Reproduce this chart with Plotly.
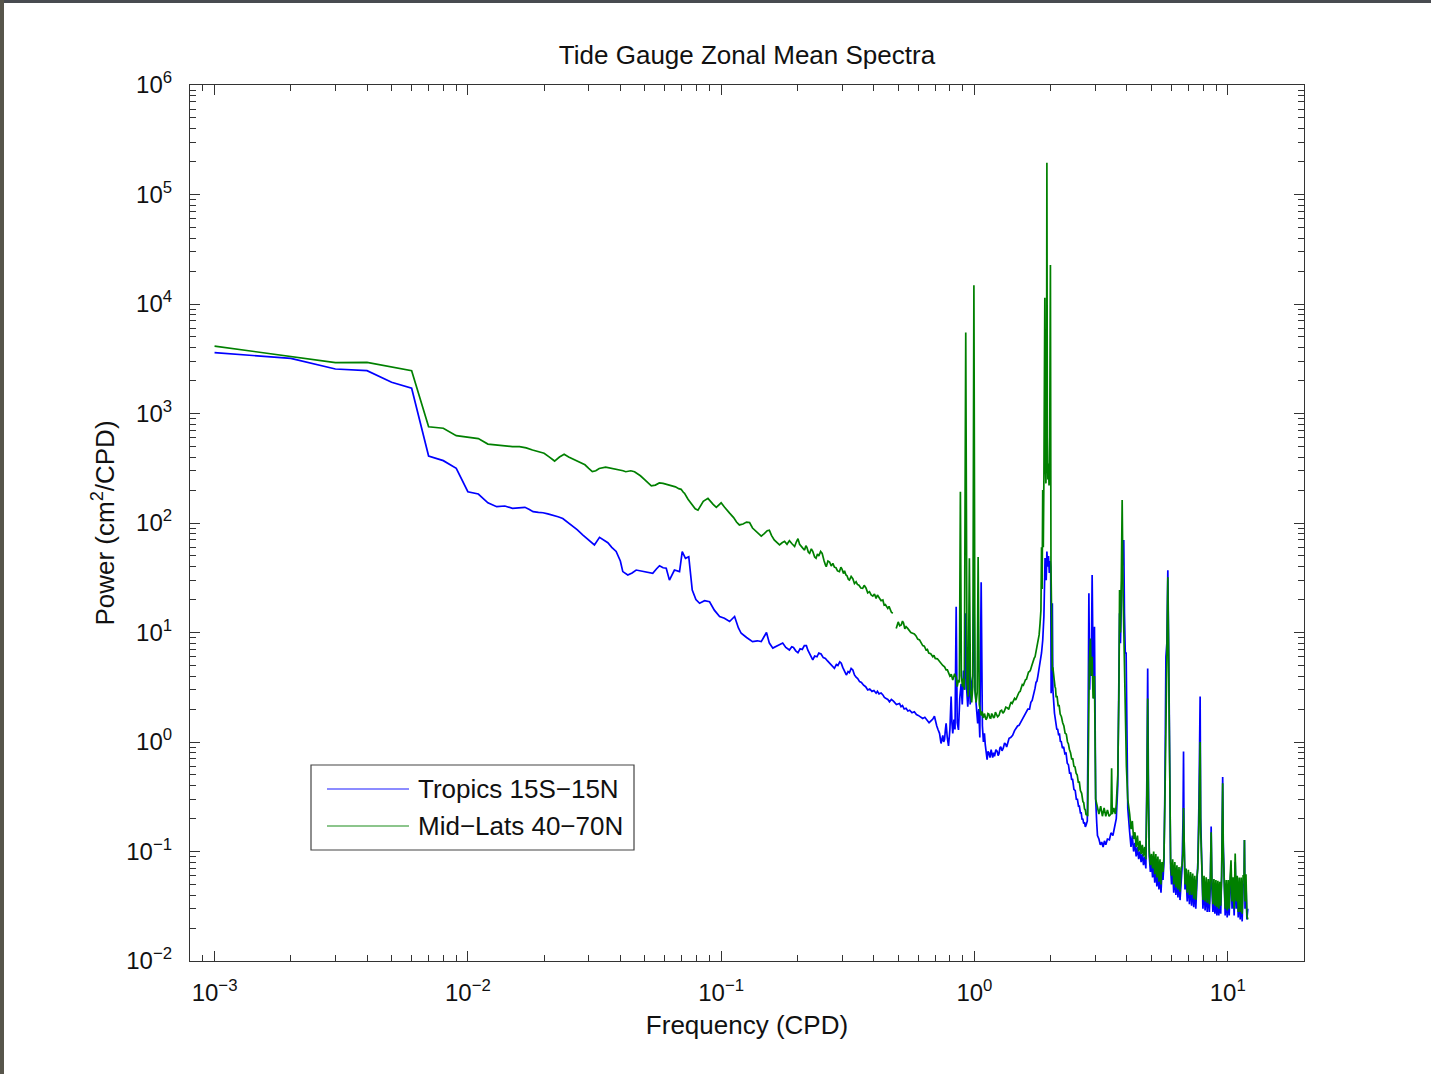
import math
import plotly.graph_objects as go

# ---------------------------------------------------------------------------
# Zonal-mean power spectra of tide-gauge sea level (cm^2/CPD vs cycles/day)
# Each series is stored in frequency bands: (freq list, power list) per band.
# ---------------------------------------------------------------------------

# ---- Tropics 15S-15N ------------------------------------------------------
trop_f_low = [
    0.001, 0.002, 0.003, 0.004, 0.005, 0.006, 0.007, 0.008, 0.009, 0.010,
    0.011, 0.012, 0.013, 0.014, 0.015, 0.016, 0.0168, 0.0175, 0.0181, 0.019,
    0.0198, 0.0207, 0.0217, 0.0227, 0.0237, 0.0246, 0.0256, 0.027, 0.0284, 0.030,
    0.0316, 0.0331, 0.0345, 0.0357, 0.037, 0.0385, 0.040, 0.0409, 0.0428, 0.0445,
    0.0462, 0.048, 0.0506, 0.0537, 0.0555, 0.0571, 0.059, 0.0607, 0.0625, 0.0654,
    0.0685, 0.0702, 0.0723, 0.0745, 0.0769, 0.0795, 0.0822, 0.086, 0.090, 0.094,
    0.0986, 0.103, 0.108, 0.113, 0.117, 0.120, 0.126, 0.133, 0.139, 0.144,
    0.151, 0.155, 0.160, 0.168, 0.175, 0.180,
]
trop_p_low = [
    3590, 3190, 2550, 2460, 1930, 1700, 409, 371, 316, 193,
    184, 153, 141, 143, 136, 138, 139, 133, 127, 125,
    124, 121, 118, 114, 110, 103, 96, 87, 78, 70,
    63, 74, 70, 66, 60, 55, 45, 36, 33.5, 35,
    37.2, 36.5, 36, 34.7, 38, 40.7, 39, 38.6, 30.1, 37.2,
    36, 54.7, 47.6, 49.2, 24.4, 20, 18.5, 19.5, 19.1, 16,
    14, 13.5, 12.6, 14, 11, 9.84, 9.0, 8.26, 8.4, 8.26,
    10, 8.0, 7.2, 7.7, 8.0, 7.3,
]
trop_f_sub = [
    0.186, 0.190, 0.193, 0.197, 0.201, 0.205, 0.209, 0.213, 0.217, 0.220,
    0.223, 0.226, 0.230, 0.234, 0.239, 0.243, 0.248, 0.253, 0.258, 0.263,
    0.268, 0.274, 0.280, 0.285, 0.289, 0.294, 0.298, 0.302, 0.305, 0.309,
    0.312, 0.317, 0.321, 0.326, 0.331, 0.336, 0.341, 0.346, 0.352, 0.358,
    0.365, 0.372, 0.379, 0.386, 0.394, 0.401, 0.409, 0.414, 0.420, 0.428,
    0.435, 0.441, 0.448, 0.455, 0.462, 0.470, 0.480, 0.492, 0.506, 0.513,
    0.520, 0.528, 0.537, 0.546, 0.555, 0.567, 0.579, 0.590, 0.600, 0.612,
    0.625, 0.637, 0.650, 0.662, 0.675, 0.685, 0.695, 0.702, 0.710, 0.718,
    0.728, 0.738, 0.744, 0.750, 0.756, 0.762, 0.768, 0.773, 0.781, 0.790,
    0.800, 0.809, 0.815, 0.821, 0.830, 0.838, 0.847,
]
trop_p_sub = [
    6.92, 7.4, 7.3, 6.8, 6.54, 7.1, 7.0, 7.6, 7.58, 6.9,
    6.4, 6.0, 5.61, 6.1, 6.0, 6.5, 6.37, 5.9, 5.8, 5.5,
    5.24, 4.9, 4.71, 5.1, 5.0, 5.4, 5.24, 4.8, 4.5, 4.3,
    4.09, 4.4, 4.3, 4.7, 4.55, 4.1, 3.9, 3.8, 3.56, 3.5,
    3.3, 3.2, 2.99, 3.05, 2.9, 2.95, 2.79, 2.9, 2.75, 2.8,
    2.69, 2.55, 2.5, 2.45, 2.33, 2.45, 2.35, 2.2, 2.25, 2.1,
    2.15, 2.0, 2.03, 1.92, 1.95, 1.85, 1.89, 1.78, 1.75, 1.7,
    1.64, 1.68, 1.6, 1.5, 1.57, 1.62, 1.72, 1.5, 1.4, 1.3,
    1.2, 0.97, 1.1, 1.15, 1.0, 1.05, 1.3, 1.48, 1.1, 0.92,
    1.3, 2.6, 1.5, 1.2, 1.6, 1.3, 17.2,
]
trop_f_diurnal = [
    0.855, 0.865, 0.875, 0.886, 0.895, 0.905, 0.915, 0.924, 0.932, 0.941,
    0.950, 0.955, 0.962, 0.975, 0.985, 0.995, 1.005, 1.015, 1.030, 1.040,
]
trop_p_diurnal = [
    1.5, 1.29, 2.5, 3.4, 2.2, 4.5, 3.0, 15, 3.0, 2.1,
    3.0, 6.0, 2.2, 3.5, 4.0, 25, 3.0, 2.25, 1.48, 2.0,
]
trop_f_rise = [
    1.050, 1.063, 1.075, 1.085, 1.095, 1.103, 1.110, 1.116, 1.122, 1.131,
    1.140, 1.152, 1.164, 1.172, 1.180, 1.190, 1.200, 1.215, 1.230, 1.240,
    1.250, 1.260, 1.270, 1.285, 1.300, 1.315, 1.330, 1.340, 1.353, 1.370,
    1.390, 1.415, 1.440, 1.460, 1.480, 1.500, 1.520, 1.540, 1.560, 1.580,
    1.600, 1.625, 1.650, 1.670, 1.690, 1.705, 1.720, 1.735, 1.750, 1.765,
    1.780, 1.800, 1.820, 1.840, 1.860, 1.880,
]
trop_p_rise = [
    1.1, 28.8, 1.4, 1.0, 1.2, 0.95, 0.85, 0.75, 0.69, 0.82,
    0.8, 0.72, 0.85, 0.78, 0.72, 0.8, 0.74, 0.85, 0.82, 0.75,
    0.78, 0.88, 0.905, 0.83, 0.88, 0.98, 0.95, 0.9, 0.97, 1.08,
    1.1, 1.15, 1.27, 1.35, 1.4, 1.42, 1.5, 1.62, 1.7, 1.75,
    1.85, 2.0, 2.0, 2.3, 2.4, 2.6, 2.8, 3.1, 3.5, 3.6,
    4.0, 4.6, 5.5, 6.5, 8.5, 14,
]
trop_f_semi = [
    1.900, 1.920, 1.932, 1.945, 1.960, 1.975, 1.990, 2.000, 2.008, 2.020,
    2.030, 2.040,
]
trop_p_semi = [
    48, 30, 55, 40, 50, 35, 45, 40, 2.79, 5.0,
    18.5, 3.0,
]
trop_f_decay = [
    2.070, 2.085, 2.100, 2.115, 2.130, 2.150, 2.165, 2.185, 2.200, 2.225,
    2.250, 2.275, 2.300, 2.325, 2.350, 2.375, 2.400, 2.420, 2.440, 2.470,
    2.500, 2.525, 2.550, 2.575, 2.595, 2.620, 2.640, 2.660, 2.677, 2.700,
    2.720, 2.740, 2.760, 2.790,
]
trop_p_decay = [
    1.83, 1.55, 1.5, 1.3, 1.32, 1.15, 1.2, 1.0, 1.02, 0.88,
    0.9, 0.78, 0.79, 0.64, 0.62, 0.52, 0.52, 0.45, 0.46, 0.37,
    0.36, 0.3, 0.3, 0.26, 0.26, 0.225, 0.225, 0.195, 0.2, 0.18,
    0.185, 0.168, 0.175, 0.19,
]
trop_f_ter = [
    2.810, 2.830, 2.850, 2.870, 2.890, 2.915, 2.940, 2.960, 2.977, 2.990,
    3.010, 3.040, 3.060, 3.100, 3.140, 3.180, 3.220, 3.260, 3.300, 3.350,
    3.410, 3.460, 3.520, 3.580, 3.630, 3.680, 3.720, 3.740, 3.770, 3.800,
    3.830, 3.860, 3.886, 3.910, 3.940, 3.970, 4.000, 4.030,
]
trop_p_ter = [
    1.5, 22.8, 3.0, 6.0, 4.0, 33.5, 5.0, 2.5, 11.3, 1.0,
    0.3, 0.18, 0.14, 0.13, 0.115, 0.122, 0.11, 0.125, 0.115, 0.13,
    0.128, 0.148, 0.14, 0.17, 0.2, 0.4, 2.5, 15, 8, 20,
    40, 55, 70, 15, 6.5, 6.5, 1.0, 0.25,
]

# ---- Mid-Lats 40-70N (None marks a data gap) ------------------------------
mid_f_low = [
    0.001, 0.002, 0.003, 0.004, 0.005, 0.006, 0.007, 0.008, 0.009, 0.010,
    0.011, 0.012, 0.013, 0.014, 0.015, 0.016, 0.017, 0.018, 0.019, 0.020,
    0.021, 0.022, 0.023, 0.024, 0.025, 0.026, 0.027, 0.028, 0.029, 0.030,
    0.031, 0.032, 0.033, 0.035, 0.037, 0.039, 0.041, 0.042, 0.044, 0.0455,
    0.047, 0.048, 0.050, 0.052, 0.053, 0.055, 0.057, 0.059, 0.061, 0.0625,
    0.064, 0.066, 0.068, 0.0695, 0.071, 0.0717, 0.074, 0.077, 0.079, 0.081,
    0.083, 0.085, 0.0887, 0.091, 0.093, 0.0957, 0.098, 0.100, 0.103, 0.106,
    0.108, 0.112, 0.115, 0.118, 0.122, 0.126, 0.1295, 0.133, 0.137, 0.141,
    0.144, 0.148, 0.152, 0.155, 0.158, 0.162, 0.166, 0.170, 0.174, 0.178,
    0.182, 0.186, 0.190,
]
mid_p_low = [
    4130, 3300, 2910, 2930, 2680, 2460, 757, 733, 627, 607,
    590, 526, 515, 512, 498, 498, 485, 464, 450, 433,
    400, 368, 400, 424, 400, 384, 372, 355, 340, 315,
    295, 300, 315, 323, 315, 311, 300, 294, 300, 294,
    280, 270, 248, 225, 218, 222, 232, 230, 226, 222,
    218, 214, 206, 203, 190, 187, 165, 145, 135, 131,
    143, 158, 168, 155, 148, 139, 147, 153, 140, 128,
    123, 112, 102, 96, 98, 102, 101, 90, 84, 79,
    76, 80, 85, 86, 77, 70, 66, 63, 66, 68,
    64, 69, 65,
]
mid_f_sub = [
    0.195, 0.198, 0.201, 0.204, 0.207, 0.210, 0.2135, 0.216, 0.218, 0.221,
    0.2235, 0.227, 0.230, 0.234, 0.237, 0.240, 0.243, 0.247, 0.2505, 0.253,
    0.255, 0.258, 0.260, 0.264, 0.268, 0.272, 0.276, 0.280, 0.284, 0.288,
    0.293, 0.297, 0.300, 0.304, 0.307, 0.311, 0.314, 0.318, 0.321, 0.326,
    0.331, 0.336, 0.341, 0.345, 0.350, 0.356, 0.362, 0.367, 0.373, 0.379,
    0.385, 0.391, 0.397, 0.403, 0.409, 0.414, 0.420, 0.428, 0.435, 0.440,
    0.445, 0.450, 0.455, 0.460, 0.465, 0.470, 0.476, 0.483, 0.491, 0.496,
    0.500, 0.507, 0.514, 0.520, 0.525, 0.531, 0.537, 0.545, 0.553, 0.561,
    0.570, 0.579, 0.588, 0.597, 0.607, 0.616, 0.625, 0.634, 0.644, 0.652,
    0.660, 0.672, 0.685, 0.692, 0.700, 0.714, 0.728, 0.739, 0.750, 0.762,
    0.773, 0.782, 0.790, 0.800, 0.810, 0.821, 0.835, 0.847,
]
mid_p_sub = [
    61, 67, 72, 64, 62, 59, 56.6, 62, 60, 54,
    52.8, 58, 55, 49, 47.6, 52, 50, 55, 52.8, 47,
    45, 41.5, 39.9, 45, 44, 40.5, 42.8, 39.5, 39, 36.5,
    36, 39.5, 38, 34.5, 36.7, 33.5, 33, 30.5, 30.1, 32.5,
    31, 28, 29.1, 27.5, 27, 25.5, 25.3, 27, 25.5, 23,
    23.6, 22, 21.5, 22.5, 20.5, 22, 21, 19.5, 19.8, 17.8,
    18, 17.2, 16.6, 17.3, 16, 15.3, 15, None, 10.9, 12.2,
    12.5, 11.5, 11.7, 12.7, 12.2, 10.8, 11.3, 10.9, 10.5, 10.0,
    9.85, 9.7, 9.3, 8.7, 8.55, 8.1, 7.6, 7.5, 6.92, 7.0,
    6.5, 6.4, 6.0, 6.2, 5.8, 5.75, 5.42, 5.25, 5.0, 4.85,
    4.55, 4.55, 4.3, 4.0, 4.15, 3.68, 4.2, 3.9,
]
mid_f_diurnal = [
    0.855, 0.865, 0.872, 0.880, 0.888, 0.897, 0.905, 0.912, 0.924, 0.935,
    0.945, 0.955, 0.965, 0.975, 0.985, 0.995, 1.005, 1.015, 1.025, 1.034,
]
mid_p_diurnal = [
    3.2, 3.7, 3.5, 193, 4.0, 3.2, 3.8, 3.0, 5500, 3.5,
    2.6, 47.7, 3.0, 2.3, 3.2, 14800, 3.0, 2.3, 2.8, 49,
]
mid_f_rise = [
    1.045, 1.050, 1.055, 1.060, 1.065, 1.070, 1.075, 1.082, 1.090, 1.095,
    1.100, 1.110, 1.120, 1.130, 1.140, 1.150, 1.160, 1.170, 1.180, 1.190,
    1.200, 1.210, 1.220, 1.235, 1.250, 1.265, 1.280, 1.295, 1.310, 1.330,
    1.350, 1.365, 1.380, 1.395, 1.410, 1.425, 1.440, 1.455, 1.470, 1.485,
    1.500, 1.515, 1.530, 1.545, 1.560, 1.575, 1.590, 1.605, 1.620, 1.635,
    1.650, 1.665, 1.680, 1.700, 1.720, 1.735, 1.750, 1.765, 1.780, 1.790,
    1.800,
]
mid_p_rise = [
    2.2, 2.0, 1.96, 1.8, 1.75, 1.9, 1.85, 1.68, 1.7, 1.82,
    1.75, 1.6, 1.65, 1.82, 1.8, 1.66, 1.65, 1.82, 1.75, 1.66,
    1.7, 1.87, 1.8, 1.7, 1.75, 1.92, 1.95, 1.83, 1.9, 2.08,
    2.05, 1.98, 2.15, 2.32, 2.25, 2.38, 2.5, 2.42, 2.6, 2.78,
    2.85, 2.9, 3.1, 3.35, 3.3, 3.5, 3.7, 3.75, 4.0, 4.35,
    4.4, 4.55, 4.9, 5.4, 5.8, 6.0, 6.6, 7.5, 8.0, 8.4,
    9.5,
]
mid_f_semi = [
    1.815, 1.830, 1.840, 1.850, 1.860, 1.870, 1.880, 1.896, 1.905,
    1.915, 1.925, 1.932, 1.940, 1.950, 1.960, 1.970, 1.980, 1.995, 2.005,
]
mid_p_semi = [
    12, 16, 60, 25, 200, 60, 250, 11400, 350,
    230, 500, 195000, 600, 250, 350, 220, 300, 22700, 40,
]
mid_f_decay = [
    2.015, 2.030, 2.040, 2.050, 2.065, 2.080, 2.090, 2.100, 2.120, 2.140,
    2.160, 2.180, 2.205, 2.230, 2.255, 2.280, 2.305, 2.330, 2.350, 2.370,
    2.395, 2.420, 2.445, 2.470, 2.495, 2.520, 2.545, 2.570, 2.595, 2.620,
    2.650, 2.680, 2.700, 2.720, 2.740, 2.760, 2.780, 2.800,
]
mid_p_decay = [
    8, 4.5, 4.8, 4.0, 3.7, 3.2, 3.1, 2.6, 2.6, 2.15,
    2.15, 1.8, 1.7, 1.5, 1.4, 1.2, 1.18, 1.0, 0.96, 0.86,
    0.8, 0.7, 0.7, 0.6, 0.59, 0.52, 0.5, 0.43, 0.43, 0.36,
    0.34, 0.285, 0.28, 0.245, 0.24, 0.215, 0.22, 0.21,
]
mid_f_ter = [
    2.820, 2.840, 2.870, 2.890, 2.915, 2.940, 2.977, 2.990, 3.010, 3.040,
    3.100, 3.150, 3.200, 3.250, 3.300, 3.350, 3.400, 3.460, 3.480, 3.500,
    3.550, 3.600, 3.630, 3.680, 3.720, 3.740, 3.770, 3.800, 3.830, 3.860,
    3.890, 3.920, 3.950, 3.980, 4.030,
]
mid_p_ter = [
    2.0, 5.0, 8.8, 4.0, 6.0, 2.5, 4.0, 0.6, 0.3, 0.27,
    0.22, 0.26, 0.21, 0.25, 0.21, 0.24, 0.21, 0.22, 0.575, 0.22,
    0.25, 0.22, 0.27, 0.5, 3.0, 24.5, 10, 30, 162, 25,
    12, 4.0, 1.5, 0.6, 0.3,
]

# ---- High-frequency band (4.1-12 CPD), shared frequency grid --------------
hf_freq = [
    4.10, 4.15, 4.20, 4.25, 4.30, 4.35, 4.40, 4.45, 4.50, 4.55,
    4.60, 4.65, 4.70, 4.75, 4.80, 4.83, 4.86, 4.90, 4.95, 5.00,
    5.05, 5.10, 5.15, 5.20, 5.25, 5.30, 5.35, 5.40, 5.45, 5.50,
    5.55, 5.60, 5.65, 5.70, 5.75, 5.80, 5.85, 5.90, 5.95, 6.00,
    6.06, 6.12, 6.18, 6.24, 6.30, 6.36, 6.42, 6.48, 6.54, 6.60,
    6.66, 6.69, 6.72, 6.78, 6.85, 6.92, 6.99, 7.06, 7.13, 7.20,
    7.27, 7.34, 7.41, 7.48, 7.55, 7.62, 7.70, 7.75, 7.78, 7.82,
    7.90, 7.98, 8.06, 8.14, 8.22, 8.30, 8.38, 8.46, 8.54, 8.60,
    8.66, 8.74, 8.82, 8.90, 8.98, 9.06, 9.14, 9.22, 9.30, 9.38,
    9.46, 9.52, 9.55, 9.60, 9.68, 9.77, 9.86, 9.95, 10.04, 10.13,
    10.22, 10.30, 10.40, 10.50, 10.60, 10.70, 10.80, 10.90, 11.00, 11.10,
    11.20, 11.30, 11.40, 11.50, 11.60, 11.64, 11.70, 11.80, 11.90, 12.00,
]
trop_hf = [
    0.15, 0.11, 0.14, 0.10, 0.12, 0.09, 0.11, 0.085, 0.10, 0.08,
    0.095, 0.075, 0.09, 0.07, 0.6, 4.7, 0.5, 0.09, 0.065, 0.08,
    0.058, 0.08, 0.052, 0.075, 0.048, 0.07, 0.045, 0.068, 0.042, 0.065,
    0.055, 0.08, 0.4, 6.0, 8.0, 37, 6.0, 0.6, 0.07, 0.05,
    0.07, 0.042, 0.066, 0.04, 0.062, 0.038, 0.06, 0.036, 0.058, 0.07,
    0.2, 0.82, 0.15, 0.045, 0.058, 0.035, 0.056, 0.033, 0.054, 0.032,
    0.052, 0.031, 0.05, 0.03, 0.05, 0.08, 0.3, 1.0, 2.6, 0.2,
    0.05, 0.03, 0.05, 0.029, 0.048, 0.028, 0.047, 0.028, 0.05, 0.169,
    0.046, 0.028, 0.046, 0.027, 0.045, 0.026, 0.045, 0.026, 0.044, 0.027,
    0.06, 0.2, 0.48, 0.12, 0.042, 0.026, 0.046, 0.025, 0.046, 0.026,
    0.048, 0.07, 0.03, 0.048, 0.026, 0.08, 0.03, 0.05, 0.025, 0.048,
    0.024, 0.048, 0.023, 0.05, 0.05, 0.127, 0.03, 0.052, 0.024, 0.03,
]
mid_hf = [
    0.22, 0.16, 0.19, 0.13, 0.15, 0.11, 0.14, 0.10, 0.125, 0.095,
    0.115, 0.09, 0.11, 0.085, 0.4, 2.5, 0.3, 0.1, 0.075, 0.095,
    0.07, 0.1, 0.062, 0.095, 0.058, 0.09, 0.053, 0.085, 0.05, 0.08,
    0.065, 0.09, 0.3, 3.0, 6.0, 32, 5.0, 0.5, 0.08, 0.06,
    0.085, 0.05, 0.08, 0.047, 0.075, 0.045, 0.072, 0.043, 0.07, 0.075,
    0.1, 0.25, 0.09, 0.05, 0.07, 0.042, 0.068, 0.04, 0.065, 0.04,
    0.063, 0.037, 0.06, 0.036, 0.058, 0.07, 0.2, 0.5, 1.0, 0.15,
    0.06, 0.036, 0.06, 0.035, 0.058, 0.034, 0.056, 0.033, 0.06, 0.15,
    0.055, 0.033, 0.056, 0.032, 0.055, 0.031, 0.054, 0.03, 0.053, 0.032,
    0.06, 0.15, 0.42, 0.1, 0.05, 0.03, 0.055, 0.029, 0.055, 0.03,
    0.058, 0.083, 0.035, 0.058, 0.03, 0.096, 0.035, 0.06, 0.028, 0.058,
    0.028, 0.058, 0.027, 0.06, 0.06, 0.127, 0.035, 0.062, 0.026, 0.024,
]

trop_bands = [
    (trop_f_low, trop_p_low), (trop_f_sub, trop_p_sub),
    (trop_f_diurnal, trop_p_diurnal), (trop_f_rise, trop_p_rise),
    (trop_f_semi, trop_p_semi), (trop_f_decay, trop_p_decay),
    (trop_f_ter, trop_p_ter), (hf_freq, trop_hf),
]
mid_bands = [
    (mid_f_low, mid_p_low), (mid_f_sub, mid_p_sub),
    (mid_f_diurnal, mid_p_diurnal), (mid_f_rise, mid_p_rise),
    (mid_f_semi, mid_p_semi), (mid_f_decay, mid_p_decay),
    (mid_f_ter, mid_p_ter), (hf_freq, mid_hf),
]


def join(bands):
    f_all, p_all = [], []
    for i, (f, p) in enumerate(bands):
        assert len(f) == len(p), (i, len(f), len(p))
        f_all += f
        p_all += p
    return f_all, p_all


trop_freq, trop_power = join(trop_bands)
mid_freq, mid_power = join(mid_bands)

series = [
    ("Tropics 15S\u221215N", "#0000ff", trop_freq, trop_power),
    ("Mid\u2212Lats 40\u221270N", "#008000", mid_freq, mid_power),
]

x_major = [1e-3, 1e-2, 1e-1, 1e0, 1e1]
y_major = [1e-2, 1e-1, 1e0, 1e1, 1e2, 1e3, 1e4, 1e5, 1e6]


def pow_label(v):
    p = int(round(math.log10(v)))
    sign = "\u2212" if p < 0 else ""
    return "10<sup>%s%d</sup>" % (sign, abs(p))


def minors(lo_exp, hi_exp):
    return [m * 10.0 ** e for e in range(lo_exp, hi_exp) for m in range(2, 10)]


x_minor = [v for v in minors(-4, 2) if 8.5e-4 < v < 19.5]
y_minor = [v for v in minors(-2, 6)]

# Figure geometry (pixels)
W, H = 1431, 1074
ML, MR, MT, MB = 190, 127, 85, 113
PW, PH = W - ML - MR, H - MT - MB


def px(x):
    return (x - ML) / PW


def py(y):
    return (H - MB - y) / PH


FONT = "Liberation Sans, Arial, Helvetica, sans-serif"
AX = "#333333"
TXT = "#111111"

fig = go.Figure()
for name, color, f, p in series:
    fig.add_trace(go.Scatter(
        x=f, y=p, mode="lines", name=name,
        line=dict(color=color, width=1.7),
        connectgaps=False, showlegend=False,
    ))

axis_common = dict(
    type="log", showgrid=False, zeroline=False,
    showline=True, linecolor=AX, linewidth=1.2, mirror="allticks",
    ticks="inside", ticklen=10, tickwidth=1.2, tickcolor=AX,
    tickfont=dict(family=FONT, size=24, color=TXT),
)

fig.update_xaxes(
    **axis_common,
    range=[math.log10(8e-4), math.log10(20)],
    tickmode="array", tickvals=x_major, ticktext=[pow_label(v) for v in x_major],
    ticklabelstandoff=10,
    minor=dict(tickmode="array", tickvals=x_minor, ticks="inside", ticklen=6,
               tickwidth=1.2, tickcolor=AX, showgrid=False),
    title=dict(text="Frequency (CPD)", font=dict(family=FONT, size=26, color=TXT),
               standoff=10),
)
fig.update_yaxes(
    **axis_common,
    range=[-2, 6],
    tickmode="array", tickvals=y_major, ticktext=[pow_label(v) for v in y_major],
    ticklabelstandoff=12,
    minor=dict(tickmode="array", tickvals=y_minor, ticks="inside", ticklen=6,
               tickwidth=1.2, tickcolor=AX, showgrid=False),
    title=dict(text="Power (cm<sup>2</sup>/CPD)", font=dict(family=FONT, size=26, color=TXT),
               standoff=4),
)

# Legend box drawn in paper coordinates
shapes = [
    dict(type="rect", xref="paper", yref="paper",
         x0=px(311), x1=px(634), y0=py(850), y1=py(765),
         line=dict(color="#444444", width=1.2), fillcolor="white", layer="above"),
    # dark frame strips along the top and left edges of the page
    dict(type="rect", xref="paper", yref="paper",
         x0=px(0), x1=px(W), y0=py(3), y1=py(0),
         line=dict(width=0), fillcolor="#484b50", layer="above"),
    dict(type="rect", xref="paper", yref="paper",
         x0=px(0), x1=px(4), y0=py(H), y1=py(0),
         line=dict(width=0), fillcolor="#57554b", layer="above"),
]
annotations = []
for (name, color, _, _), ly in zip(series, [789, 826]):
    shapes.append(dict(type="line", xref="paper", yref="paper",
                       x0=px(327), x1=px(409), y0=py(ly), y1=py(ly),
                       line=dict(color=color, width=1.4), layer="above", opacity=0.6))
    annotations.append(dict(xref="paper", yref="paper", x=px(416), y=py(ly),
                            xanchor="left", yanchor="middle", showarrow=False,
                            text=name, font=dict(family=FONT, size=26, color=TXT)))

fig.update_layout(
    width=W, height=H,
    margin=dict(l=ML, r=MR, t=MT, b=MB),
    paper_bgcolor="white", plot_bgcolor="white",
    title=dict(text="Tide Gauge Zonal Mean Spectra", x=0.5, xref="paper",
               y=1 - 55 / H, yref="container", yanchor="middle", xanchor="center",
               font=dict(family=FONT, size=26, color=TXT)),
    shapes=shapes, annotations=annotations,
    showlegend=False,
)

fig.write_html("out.html")
